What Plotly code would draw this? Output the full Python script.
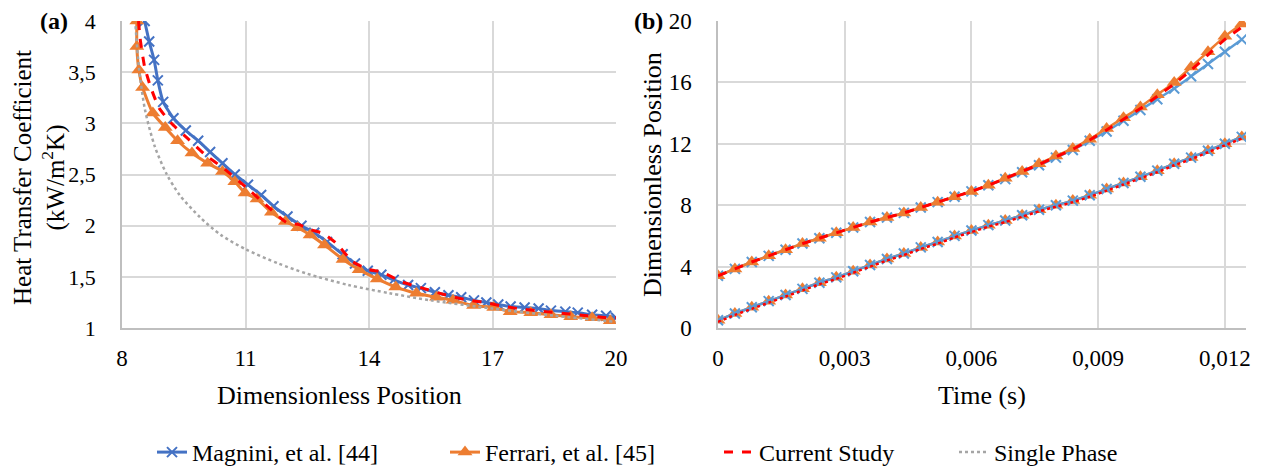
import plotly.graph_objects as go

# ---------------- Panel (a): heat transfer coefficient ----------------
mag_x = [8.55, 8.66, 8.78, 8.87, 9.0, 9.25, 9.55, 9.85, 10.14, 10.44, 10.74, 11.06, 11.38, 11.68,
         12.02, 12.36, 12.67, 12.98, 13.36, 13.66, 13.97, 14.3, 14.6, 14.95, 15.26, 15.6, 15.93,
         16.24, 16.55, 16.85, 17.14, 17.44, 17.78, 18.12, 18.42, 18.77, 19.07, 19.42, 19.76, 20.0]
mag_y = [4.0, 3.8, 3.62, 3.42, 3.21, 3.05, 2.93, 2.83, 2.72, 2.61, 2.5, 2.4, 2.3, 2.19,
         2.09, 2.0, 1.93, 1.84, 1.72, 1.63, 1.56, 1.52, 1.47, 1.42, 1.39, 1.35, 1.32,
         1.3, 1.27, 1.25, 1.23, 1.21, 1.2, 1.19, 1.17, 1.16, 1.15, 1.13, 1.12, 1.1]

fer_x = [8.36, 8.36, 8.41, 8.5, 8.75, 9.05, 9.35, 9.7, 10.08, 10.44, 10.74, 10.99, 11.28, 11.63,
         11.97, 12.27, 12.57, 12.92, 13.37, 13.76, 14.2, 14.65, 15.15, 15.64, 16.04, 16.54,
         17.03, 17.43, 17.93, 18.42, 18.9, 19.42, 19.86]
fer_y = [4.0, 3.75, 3.52, 3.35, 3.1, 2.96, 2.83, 2.71, 2.61, 2.53, 2.43, 2.32, 2.26, 2.13,
         2.04, 1.98, 1.91, 1.81, 1.67, 1.57, 1.48, 1.4, 1.34, 1.3, 1.27, 1.22,
         1.2, 1.16, 1.15, 1.13, 1.11, 1.1, 1.07]

cur_x = [8.4, 8.45, 8.55, 8.7, 8.9, 9.2, 9.6, 10.0, 10.5, 11.0, 11.5, 12.0, 12.3, 12.6, 12.9,
         13.2, 13.6, 14.0, 14.3, 14.8, 15.3, 15.8, 16.3, 16.8, 17.3, 17.8, 18.3, 18.8, 19.3,
         19.8, 20.0]
cur_y = [4.0, 3.8, 3.55, 3.35, 3.15, 3.0, 2.85, 2.7, 2.55, 2.38, 2.2, 2.03, 2.01, 1.96, 1.92,
         1.83, 1.65, 1.57, 1.55, 1.45, 1.39, 1.33, 1.28, 1.25, 1.21, 1.18, 1.16, 1.14, 1.12,
         1.1, 1.1]

sp_x = [8.33, 8.41, 8.56, 8.8, 9.09, 9.4, 9.9, 10.4, 11.0, 11.8, 12.5, 13.5, 14.5, 15.5,
        17.0, 18.5, 20.0]
sp_y = [3.95, 3.55, 3.13, 2.77, 2.5, 2.3, 2.08, 1.91, 1.77, 1.63, 1.53, 1.42, 1.34, 1.27,
        1.19, 1.12, 1.06]

# ---------------- Panel (b): position vs time ----------------
t = [0.0, 0.0004, 0.0008, 0.0012, 0.0016, 0.002, 0.0024, 0.0028, 0.0032, 0.0036, 0.004,
     0.0044, 0.0048, 0.0052, 0.0056, 0.006, 0.0064, 0.0068, 0.0072, 0.0076, 0.008, 0.0084,
     0.0088, 0.0092, 0.0096, 0.01, 0.0104, 0.0108, 0.0112, 0.0116, 0.012, 0.0124]

up_fer = [3.4, 3.85, 4.3, 4.7, 5.1, 5.5, 5.85, 6.2, 6.55, 6.9, 7.2, 7.5, 7.85, 8.2, 8.55, 8.9,
          9.3, 9.75, 10.2, 10.7, 11.2, 11.7, 12.3, 13.0, 13.7, 14.4, 15.2, 16.0, 17.0, 18.0,
          19.0, 19.8]
up_mag = [3.4, 3.85, 4.3, 4.7, 5.1, 5.5, 5.85, 6.2, 6.55, 6.9, 7.2, 7.5, 7.85, 8.2, 8.55, 8.9,
          9.3, 9.7, 10.15, 10.6, 11.1, 11.6, 12.2, 12.8, 13.5, 14.2, 14.9, 15.6, 16.4, 17.2,
          18.0, 18.8]
up_cur = [3.4, 3.85, 4.3, 4.7, 5.1, 5.5, 5.85, 6.2, 6.55, 6.9, 7.2, 7.5, 7.85, 8.2, 8.55, 8.9,
          9.3, 9.75, 10.2, 10.65, 11.15, 11.65, 12.25, 12.9, 13.6, 14.3, 15.1, 15.9, 16.8, 17.8,
          18.8, 19.6]

lo_mag = [0.5, 0.95, 1.35, 1.75, 2.15, 2.55, 2.95, 3.3, 3.7, 4.1, 4.5, 4.85, 5.25, 5.6, 6.0,
          6.35, 6.7, 7.0, 7.35, 7.7, 8.0, 8.3, 8.65, 9.05, 9.45, 9.85, 10.25, 10.7, 11.1, 11.55,
          12.0, 12.45]
lo_fer = [0.5, 0.95, 1.35, 1.75, 2.15, 2.55, 2.95, 3.3, 3.7, 4.1, 4.5, 4.85, 5.25, 5.6, 6.0,
          6.35, 6.7, 7.0, 7.35, 7.7, 8.0, 8.3, 8.65, 9.05, 9.45, 9.85, 10.25, 10.7, 11.1, 11.55,
          12.0, 12.45]
lo_cur = [0.4, 0.85, 1.25, 1.65, 2.05, 2.45, 2.85, 3.2, 3.6, 4.0, 4.4, 4.75, 5.15, 5.5, 5.9,
          6.25, 6.6, 6.9, 7.25, 7.6, 7.9, 8.2, 8.55, 8.95, 9.35, 9.75, 10.15, 10.6, 11.0, 11.45,
          11.9, 12.35]

BLUE = "#4472C4"
BLUE2 = "#5B9BD5"
ORANGE = "#ED7D31"
RED = "#FF0000"
GRAY = "#A5A5A5"
FONT = "'Liberation Serif', 'Times New Roman', Times, serif"

fig = go.Figure()

xm = dict(symbol="x-thin-open", size=10, line=dict(width=2))
tm = dict(symbol="triangle-up", size=13)

# Panel (a)
fig.add_trace(go.Scatter(x=mag_x, y=mag_y, mode="lines+markers", name="Magnini, et al. [44]",
                         line=dict(color=BLUE, width=3, shape="spline", smoothing=0.5),
                         marker=dict(color=BLUE, **xm), legend="legend",
                         xaxis="x", yaxis="y"))
fig.add_trace(go.Scatter(x=fer_x, y=fer_y, mode="lines+markers", name="Ferrari, et al. [45]",
                         line=dict(color=ORANGE, width=3, shape="spline", smoothing=0.5),
                         marker=dict(color=ORANGE, **tm), legend="legend2",
                         xaxis="x", yaxis="y"))
fig.add_trace(go.Scatter(x=cur_x, y=cur_y, mode="lines", name="Current Study",
                         line=dict(color=RED, width=3, dash="dash", shape="spline", smoothing=0.5),
                         legend="legend3", xaxis="x", yaxis="y"))
fig.add_trace(go.Scatter(x=sp_x, y=sp_y, mode="lines", name="Single Phase",
                         line=dict(color=GRAY, width=2.5, dash="dot", shape="spline", smoothing=0.8),
                         legend="legend4", xaxis="x", yaxis="y"))

# Panel (b)
fig.add_trace(go.Scatter(x=t, y=up_mag, mode="lines+markers", showlegend=False,
                         line=dict(color=BLUE2, width=2.5, shape="spline", smoothing=0.5),
                         marker=dict(color=BLUE2, **xm), xaxis="x2", yaxis="y2"))
fig.add_trace(go.Scatter(x=t, y=up_fer, mode="lines+markers", showlegend=False,
                         line=dict(color=ORANGE, width=2.5, shape="spline", smoothing=0.5),
                         marker=dict(color=ORANGE, **tm), xaxis="x2", yaxis="y2"))
fig.add_trace(go.Scatter(x=t, y=up_cur, mode="lines", showlegend=False,
                         line=dict(color=RED, width=3, dash="dash", shape="spline", smoothing=0.5),
                         xaxis="x2", yaxis="y2"))
fig.add_trace(go.Scatter(x=t, y=lo_fer, mode="lines+markers", showlegend=False,
                         line=dict(color=ORANGE, width=2.5, shape="spline", smoothing=0.5),
                         marker=dict(color=ORANGE, **tm), xaxis="x2", yaxis="y2"))
fig.add_trace(go.Scatter(x=t, y=lo_mag, mode="lines+markers", showlegend=False,
                         line=dict(color=BLUE2, width=2.5, shape="spline", smoothing=0.5),
                         marker=dict(color=BLUE2, **xm), xaxis="x2", yaxis="y2"))
fig.add_trace(go.Scatter(x=t, y=lo_cur, mode="lines", showlegend=False,
                         line=dict(color=RED, width=2.5, dash="dot", shape="spline", smoothing=0.5),
                         xaxis="x2", yaxis="y2"))

W, H = 1264, 468
def px_x(p):
    return p / W
def px_y(p):
    return 1 - p / H

axis_common = dict(showgrid=True, gridcolor="#D9D9D9", gridwidth=1.5, showline=True,
                   linecolor="#BFBFBF", linewidth=1.5, zeroline=False, ticks="",
                   fixedrange=True)

def legend_at(xpx):
    return dict(orientation="h", x=px_x(xpx), xanchor="left", y=px_y(430), yanchor="top",
                font=dict(family=FONT, size=24, color="#000"),
                bgcolor="rgba(0,0,0,0)", borderwidth=0)

fig.update_layout(
    width=W, height=H,
    margin=dict(l=0, r=0, t=0, b=0, autoexpand=False),
    paper_bgcolor="white", plot_bgcolor="white",
    separators=",.",
    font=dict(family=FONT, size=22, color="#000"),
    xaxis=dict(domain=[px_x(122), px_x(616)], range=[8, 20], tickvals=[8, 11, 14, 17, 20],
               anchor="y", ticklabelstandoff=9,
               tickfont=dict(family=FONT, size=23, color="#000"), **axis_common),
    yaxis=dict(domain=[px_y(328), px_y(21)], range=[1, 4],
               tickvals=[1, 1.5, 2, 2.5, 3, 3.5, 4], ticktext=["1", "1,5", "2", "2,5", "3", "3,5", "4"],
               anchor="x", ticklabelstandoff=20,
               tickfont=dict(family=FONT, size=22, color="#000"), **axis_common),
    xaxis2=dict(domain=[px_x(718), px_x(1246)], range=[0, 0.0125],
                tickvals=[0, 0.003, 0.006, 0.009, 0.012],
                ticktext=["0", "0,003", "0,006", "0,009", "0,012"],
                anchor="y2", ticklabelstandoff=9,
                tickfont=dict(family=FONT, size=23, color="#000"), **axis_common),
    yaxis2=dict(domain=[px_y(328), px_y(21)], range=[0, 20], tickvals=[0, 4, 8, 12, 16, 20],
                anchor="x2", ticklabelstandoff=20,
                tickfont=dict(family=FONT, size=23, color="#000"), **axis_common),
    legend=legend_at(152),
    legend2=legend_at(445),
    legend3=legend_at(719),
    legend4=legend_at(954),
    showlegend=True,
)

ann = [
    dict(text="<b>(a)</b>", x=px_x(54), y=px_y(21), xanchor="center", yanchor="middle",
         font=dict(family=FONT, size=24)),
    dict(text="<b>(b)</b>", x=px_x(648), y=px_y(21), xanchor="center", yanchor="middle",
         font=dict(family=FONT, size=24)),
    dict(text="Heat Transfer Coefficient<br>(kW/m<sup>2</sup>K)", x=px_x(39), y=px_y(178),
         xanchor="center", yanchor="middle", textangle=-90,
         font=dict(family=FONT, size=25)),
    dict(text="Dimensionless Position", x=px_x(652), y=px_y(175),
         xanchor="center", yanchor="middle", textangle=-90,
         font=dict(family=FONT, size=26)),
    dict(text="Dimensionless Position", x=px_x(339), y=px_y(395),
         xanchor="center", yanchor="middle", font=dict(family=FONT, size=26)),
    dict(text="Time (s)", x=px_x(982), y=px_y(395),
         xanchor="center", yanchor="middle", font=dict(family=FONT, size=26)),
]
for a in ann:
    a.update(xref="paper", yref="paper", showarrow=False)
fig.update_layout(annotations=ann)

fig.write_html("out.html")
